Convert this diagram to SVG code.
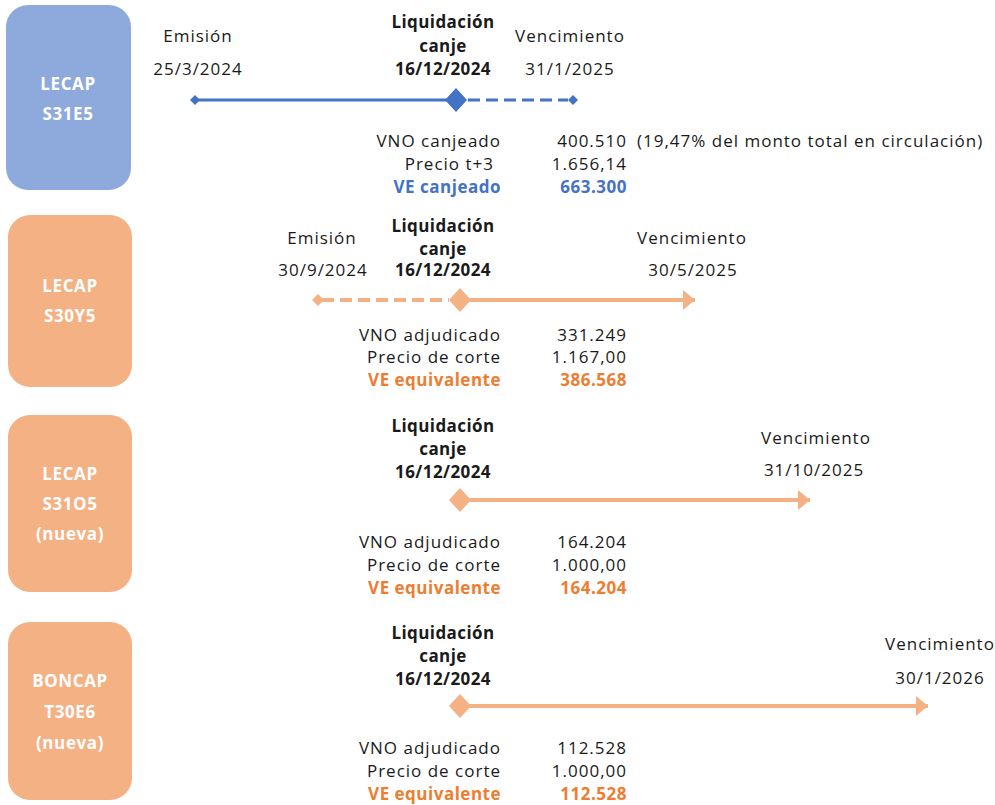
<svg xmlns="http://www.w3.org/2000/svg" width="995" height="805" viewBox="0 0 995 805">
<style>
text{font-family:"Open Sans","Noto Sans","Liberation Sans",sans-serif;font-size:17px;fill:#1a1a1a;letter-spacing:1px}
.b{font-weight:bold;letter-spacing:0.4px}
.c{text-anchor:middle}
.r{text-anchor:end}
.box{font-weight:bold;fill:#fff;text-anchor:middle;font-size:17px;letter-spacing:0.6px}
.blue{fill:#4472C4;font-weight:bold;letter-spacing:0.5px}
.or{fill:#ED7D31;font-weight:bold;letter-spacing:0.5px}
.bl{stroke:#4472C4;stroke-width:3;fill:none}
.ol{stroke:#F4B183;stroke-width:4;fill:none}
.dash{stroke-dasharray:12 6}
</style>
<defs>
<marker id="ah" viewBox="0 0 12 20" refX="12" refY="10" markerWidth="3" markerHeight="5" markerUnits="strokeWidth" orient="auto"><path d="M0,0L12,10L0,20z" fill="#F4B183"/></marker>
</defs>
<g id="node-s31e5">
<rect x="6" y="5" width="125" height="185" rx="22" fill="#8EA9DB"/>
<text class="box" x="68" y="90">LECAP</text>
<text class="box" x="68" y="120">S31E5</text>
</g>
<g id="node-s30y5">
<rect x="8" y="215" width="124" height="172" rx="22" fill="#F4B183"/>
<text class="box" x="70" y="292">LECAP</text>
<text class="box" x="70" y="322">S30Y5</text>
</g>
<g id="node-s31o5">
<rect x="8" y="415" width="124" height="177" rx="22" fill="#F4B183"/>
<text class="box" x="70" y="480">LECAP</text>
<text class="box" x="70" y="510">S31O5</text>
<text class="box" x="70" y="540">(nueva)</text>
</g>
<g id="node-t30e6">
<rect x="8" y="622" width="124" height="178" rx="22" fill="#F4B183"/>
<text class="box" x="70" y="687">BONCAP</text>
<text class="box" x="70" y="718">T30E6</text>
<text class="box" x="70" y="749">(nueva)</text>
</g>
<g id="connectors">
<line class="bl" x1="195" y1="100" x2="456" y2="100"/>
<line class="bl dash" x1="468" y1="100" x2="568" y2="100"/>
<path d="M195,95L200,100L195,105L190,100z" fill="#4472C4"/>
<path d="M573,95L578,100L573,105L568,100z" fill="#4472C4"/>
<path d="M456,88L467,100L456,112L445,100z" fill="#4472C4"/>
<line class="ol dash" x1="322" y1="300" x2="449" y2="300"/>
<line class="ol" x1="460" y1="300" x2="695" y2="300" marker-end="url(#ah)"/>
<path d="M318,294L324,300L318,306L312,300z" fill="#F4B183"/>
<path d="M460,288L471,300L460,312L449,300z" fill="#F4B183"/>
<line class="ol" x1="460" y1="500" x2="810" y2="500" marker-end="url(#ah)"/>
<path d="M460,488L471,500L460,512L449,500z" fill="#F4B183"/>
<line class="ol" x1="460" y1="706" x2="928" y2="706" marker-end="url(#ah)"/>
<path d="M460,694L471,706L460,718L449,706z" fill="#F4B183"/>
</g>
<g id="labels-1">
<text class="c" x="198" y="42">Emisión</text>
<text class="c" x="198" y="75">25/3/2024</text>
<text class="c b" x="443" y="28">Liquidación</text>
<text class="c b" x="443" y="52">canje</text>
<text class="c b" x="443" y="75">16/12/2024</text>
<text class="c" x="570" y="42">Vencimiento</text>
<text class="c" x="570" y="75">31/1/2025</text>
<text class="r" x="501" y="147">VNO canjeado</text>
<text class="r" x="627" y="147">400.510</text>
<text x="637" y="147">(19,47% del monto total en circulación)</text>
<text class="r" x="494" y="170">Precio t+3</text>
<text class="r" x="627" y="170">1.656,14</text>
<text class="r blue" x="501" y="193">VE canjeado</text>
<text class="r blue" x="627" y="193">663.300</text>
</g>
<g id="labels-2">
<text class="c" x="322" y="244">Emisión</text>
<text class="c" x="323" y="276">30/9/2024</text>
<text class="c b" x="443" y="232">Liquidación</text>
<text class="c b" x="443" y="255">canje</text>
<text class="c b" x="443" y="276">16/12/2024</text>
<text class="c" x="692" y="244">Vencimiento</text>
<text class="c" x="693" y="276">30/5/2025</text>
<text class="r" x="501" y="341">VNO adjudicado</text>
<text class="r" x="627" y="341">331.249</text>
<text class="r" x="501" y="363">Precio de corte</text>
<text class="r" x="627" y="363">1.167,00</text>
<text class="r or" x="501" y="386">VE equivalente</text>
<text class="r or" x="627" y="386">386.568</text>
</g>
<g id="labels-3">
<text class="c b" x="443" y="432">Liquidación</text>
<text class="c b" x="443" y="455">canje</text>
<text class="c b" x="443" y="478">16/12/2024</text>
<text class="c" x="816" y="444">Vencimiento</text>
<text class="c" x="814" y="476">31/10/2025</text>
<text class="r" x="501" y="548">VNO adjudicado</text>
<text class="r" x="627" y="548">164.204</text>
<text class="r" x="501" y="571">Precio de corte</text>
<text class="r" x="627" y="571">1.000,00</text>
<text class="r or" x="501" y="594">VE equivalente</text>
<text class="r or" x="627" y="594">164.204</text>
</g>
<g id="labels-4">
<text class="c b" x="443" y="639">Liquidación</text>
<text class="c b" x="443" y="662">canje</text>
<text class="c b" x="443" y="685">16/12/2024</text>
<text class="c" x="940" y="650">Vencimiento</text>
<text class="c" x="940" y="684">30/1/2026</text>
<text class="r" x="501" y="754">VNO adjudicado</text>
<text class="r" x="627" y="754">112.528</text>
<text class="r" x="501" y="777">Precio de corte</text>
<text class="r" x="627" y="777">1.000,00</text>
<text class="r or" x="501" y="800">VE equivalente</text>
<text class="r or" x="627" y="800">112.528</text>
</g>
</svg>
